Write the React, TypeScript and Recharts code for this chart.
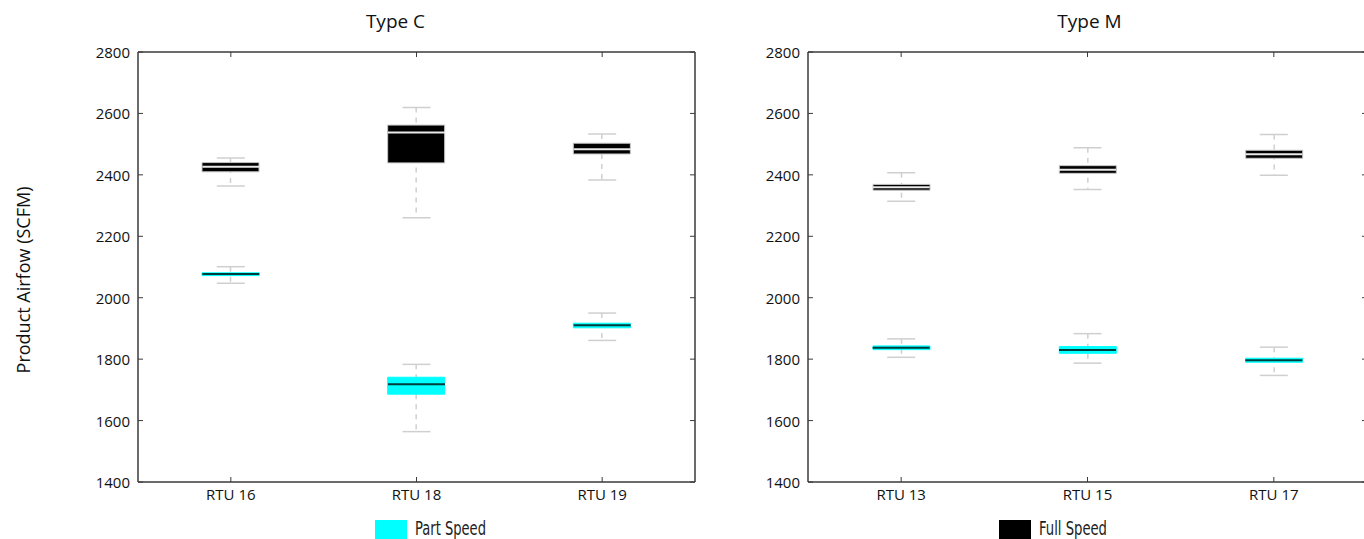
import React from 'react';
import { ComposedChart, Bar, Scatter, XAxis, YAxis, Label } from 'recharts';

// Units in each product family
const typeCUnits = ['RTU 16', 'RTU 18', 'RTU 19'];
const typeMUnits = ['RTU 13', 'RTU 15', 'RTU 17'];

// Airflow tick marks (SCFM)
const airflowTicks = [1400, 1600, 1800, 2000, 2200, 2400, 2600, 2800];

// Five-number summaries per unit: [min, q1, median, q3, max]
const typeCPartSpeed = [
  [2047, 2072, 2077, 2081, 2101],
  [1564, 1686, 1718, 1741, 1783],
  [1861, 1902, 1910, 1917, 1950],
];
const typeCFullSpeed = [
  [2364, 2410, 2426, 2440, 2455],
  [2260, 2439, 2538, 2562, 2619],
  [2383, 2468, 2483, 2503, 2533],
];
const typeMPartSpeed = [
  [1806, 1831, 1837, 1843, 1866],
  [1787, 1819, 1830, 1841, 1883],
  [1747, 1790, 1796, 1803, 1839],
];
const typeMFullSpeed = [
  [2314, 2350, 2360, 2369, 2407],
  [2352, 2405, 2417, 2430, 2488],
  [2399, 2454, 2467, 2480, 2531],
];

const FONT = '"Open Sans", "DejaVu Sans", sans-serif';
const LEGEND_FONT = '"DejaVu Sans Condensed", "DejaVu Sans", sans-serif';
const AXIS = '#3a3a3a';
const CYAN = '#00ffff';
const WHISKER = '#cfcfcf';
const BOX_W = 57;
const CAP_W = 28;
const TICK_LEN = 5;

function buildRows(units: string[], part: number[][], full: number[][]) {
  return units.map((name, i) => {
    const [pMin, pQ1, pMed, pQ3, pMax] = part[i];
    const [fMin, fQ1, fMed, fQ3, fMax] = full[i];
    return {
      name,
      pRange: [pMin, pMax],
      pBox: [pQ1, pQ3],
      pMed,
      pMin,
      pMax,
      fRange: [fMin, fMax],
      fBox: [fQ1, fQ3],
      fMed,
      fMin,
      fMax,
    };
  });
}

const typeCRows = buildRows(typeCUnits, typeCPartSpeed, typeCFullSpeed);
const typeMRows = buildRows(typeMUnits, typeMPartSpeed, typeMFullSpeed);

// Dashed vertical whisker through the middle of a range bar
const WhiskerShape = (props: any) => {
  const { x, y, width, height } = props;
  const cx = x + width / 2;
  const top = Math.min(y, y + height);
  const bottom = Math.max(y, y + height);
  return (
    <line x1={cx} x2={cx} y1={top} y2={bottom} stroke={WHISKER} strokeWidth={1.5} strokeDasharray="5 5" />
  );
};

// Horizontal segment centred on a point (medians and whisker caps)
const hSegment = (len: number, color: string, w: number) => (props: any) => {
  const { cx, cy } = props;
  if (cx == null || cy == null) return <g />;
  return <line x1={cx - len / 2} x2={cx + len / 2} y1={cy} y2={cy} stroke={color} strokeWidth={w} />;
};

// Inward-pointing tick marks, matplotlib style
const LeftTick = (props: any) => {
  const { x, y, payload } = props;
  return (
    <g>
      <line x1={x} x2={x + TICK_LEN} y1={y} y2={y} stroke={AXIS} strokeWidth={1} />
      <text x={x - 8} y={y} textAnchor="end" dominantBaseline="central" fontFamily={FONT} fontSize={15} fill="#111">
        {payload.value}
      </text>
    </g>
  );
};

const RightTick = (props: any) => {
  const { x, y } = props;
  return <line x1={x - TICK_LEN} x2={x} y1={y} y2={y} stroke={AXIS} strokeWidth={1} />;
};

const BottomTick = (props: any) => {
  const { x, y, payload } = props;
  return (
    <g>
      <line x1={x} x2={x} y1={y} y2={y - TICK_LEN} stroke={AXIS} strokeWidth={1} />
      <text x={x} y={y + 18} textAnchor="middle" fontFamily={FONT} fontSize={15} fill="#111">
        {payload.value}
      </text>
    </g>
  );
};

const TopTick = (props: any) => {
  const { x, y } = props;
  return <line x1={x} x2={x} y1={y} y2={y + TICK_LEN} stroke={AXIS} strokeWidth={1} />;
};

const titleContent = (text: string, dx: number) => (props: any) => {
  const vb = props.viewBox || { x: 0, y: 0, width: 0, height: 0 };
  return (
    <text x={vb.x + vb.width / 2 + dx} y={vb.y + vb.height - 24} textAnchor="middle" fontFamily={FONT} fontSize={19} fill="#111">
      {text}
    </text>
  );
};

const yTitleContent = (props: any) => {
  const vb = props.viewBox || { x: 0, y: 0, height: 0 };
  const x = vb.x - 55;
  const y = vb.y + vb.height / 2 + 13;
  return (
    <text x={x} y={y} transform={`rotate(-90, ${x}, ${y})`} textAnchor="middle" dominantBaseline="central" fontFamily={FONT} fontSize={18} fill="#111">
      Product Airfow (SCFM)
    </text>
  );
};

type PanelProps = {
  rows: any[];
  title: string;
  titleDx: number;
  width: number;
  marginLeft: number;
  marginRight: number;
  showYTitle: boolean;
};

const TOP_AXIS_H = 20;

const Panel = ({ rows, title, titleDx, width, marginLeft, marginRight, showYTitle }: PanelProps) => (
  <ComposedChart
    width={width}
    height={539}
    data={rows}
    barGap={-BOX_W}
    margin={{ top: 52 - TOP_AXIS_H, right: marginRight, bottom: 27, left: marginLeft }}
  >
    <XAxis
      xAxisId="main"
      dataKey="name"
      type="category"
      height={30}
      interval={0}
      tickSize={0}
      tickMargin={0}
      tickLine={false}
      axisLine={{ stroke: AXIS, strokeWidth: 1.5 }}
      tick={<BottomTick />}
    />
    <XAxis
      xAxisId="top"
      dataKey="name"
      type="category"
      orientation="top"
      height={TOP_AXIS_H}
      interval={0}
      tickSize={0}
      tickMargin={0}
      tickLine={false}
      axisLine={{ stroke: AXIS, strokeWidth: 1.5 }}
      tick={<TopTick />}
    >
      <Label content={titleContent(title, titleDx)} />
    </XAxis>
    <YAxis
      yAxisId="left"
      type="number"
      domain={[1400, 2800]}
      ticks={airflowTicks}
      allowDataOverflow
      width={60}
      tickSize={0}
      tickMargin={0}
      tickLine={false}
      axisLine={{ stroke: AXIS, strokeWidth: 1.5 }}
      tick={<LeftTick />}
    >
      {showYTitle ? <Label content={yTitleContent} /> : null}
    </YAxis>
    <YAxis
      yAxisId="right"
      orientation="right"
      type="number"
      domain={[1400, 2800]}
      ticks={airflowTicks}
      allowDataOverflow
      width={1}
      tickSize={0}
      tickMargin={0}
      tickLine={false}
      axisLine={{ stroke: AXIS, strokeWidth: 1.5 }}
      tick={<RightTick />}
    />

    {/* Part speed: whisker, box */}
    <Bar xAxisId="main" yAxisId="left" dataKey="pRange" barSize={BOX_W} shape={WhiskerShape} isAnimationActive={false} />
    <Bar xAxisId="main" yAxisId="left" dataKey="pBox" barSize={BOX_W} fill={CYAN} stroke={CYAN} strokeWidth={1} isAnimationActive={false} />
    {/* Full speed: whisker, box */}
    <Bar xAxisId="main" yAxisId="right" dataKey="fRange" barSize={BOX_W} shape={WhiskerShape} isAnimationActive={false} />
    <Bar xAxisId="main" yAxisId="right" dataKey="fBox" barSize={BOX_W} fill="#000" stroke="#c4c4c4" strokeWidth={1} isAnimationActive={false} />

    {/* Caps and medians */}
    <Scatter xAxisId="top" yAxisId="left" dataKey="pMin" shape={hSegment(CAP_W, WHISKER, 1.5)} isAnimationActive={false} />
    <Scatter xAxisId="top" yAxisId="left" dataKey="pMax" shape={hSegment(CAP_W, WHISKER, 1.5)} isAnimationActive={false} />
    <Scatter xAxisId="top" yAxisId="right" dataKey="fMin" shape={hSegment(CAP_W, WHISKER, 1.5)} isAnimationActive={false} />
    <Scatter xAxisId="top" yAxisId="right" dataKey="fMax" shape={hSegment(CAP_W, WHISKER, 1.5)} isAnimationActive={false} />
    <Scatter xAxisId="top" yAxisId="left" dataKey="pMed" shape={hSegment(BOX_W, '#013c3c', 2)} isAnimationActive={false} />
    <Scatter xAxisId="top" yAxisId="right" dataKey="fMed" shape={hSegment(BOX_W, '#eaeaea', 2)} isAnimationActive={false} />
  </ComposedChart>
);

const LegendKey = ({ left, color, text, textLen }: { left: number; color: string; text: string; textLen: number }) => (
  <svg width={130} height={19} style={{ position: 'absolute', left, top: 520 }}>
    <rect x={0} y={0} width={32} height={19} fill={color} />
    <text x={40} y={15} fontFamily={LEGEND_FONT} fontSize={19} fill="#222" textLength={textLen} lengthAdjust="spacingAndGlyphs">
      {text}
    </text>
  </svg>
);

export default function App() {
  return (
    <div style={{ position: 'absolute', left: 0, top: 0, width: 1364, height: 539, overflow: 'hidden', background: '#fff' }}>
      <div style={{ position: 'absolute', left: 0, top: 0 }}>
        <Panel rows={typeCRows} title="Type C" titleDx={-21} width={720} marginLeft={78} marginRight={24} showYTitle />
      </div>
      <div style={{ position: 'absolute', left: 730, top: 0 }}>
        <Panel rows={typeMRows} title="Type M" titleDx={2} width={660} marginLeft={18} marginRight={22} showYTitle={false} />
      </div>
      <LegendKey left={375} color={CYAN} text="Part Speed" textLen={71} />
      <LegendKey left={999} color="#000" text="Full Speed" textLen={68} />
    </div>
  );
}
